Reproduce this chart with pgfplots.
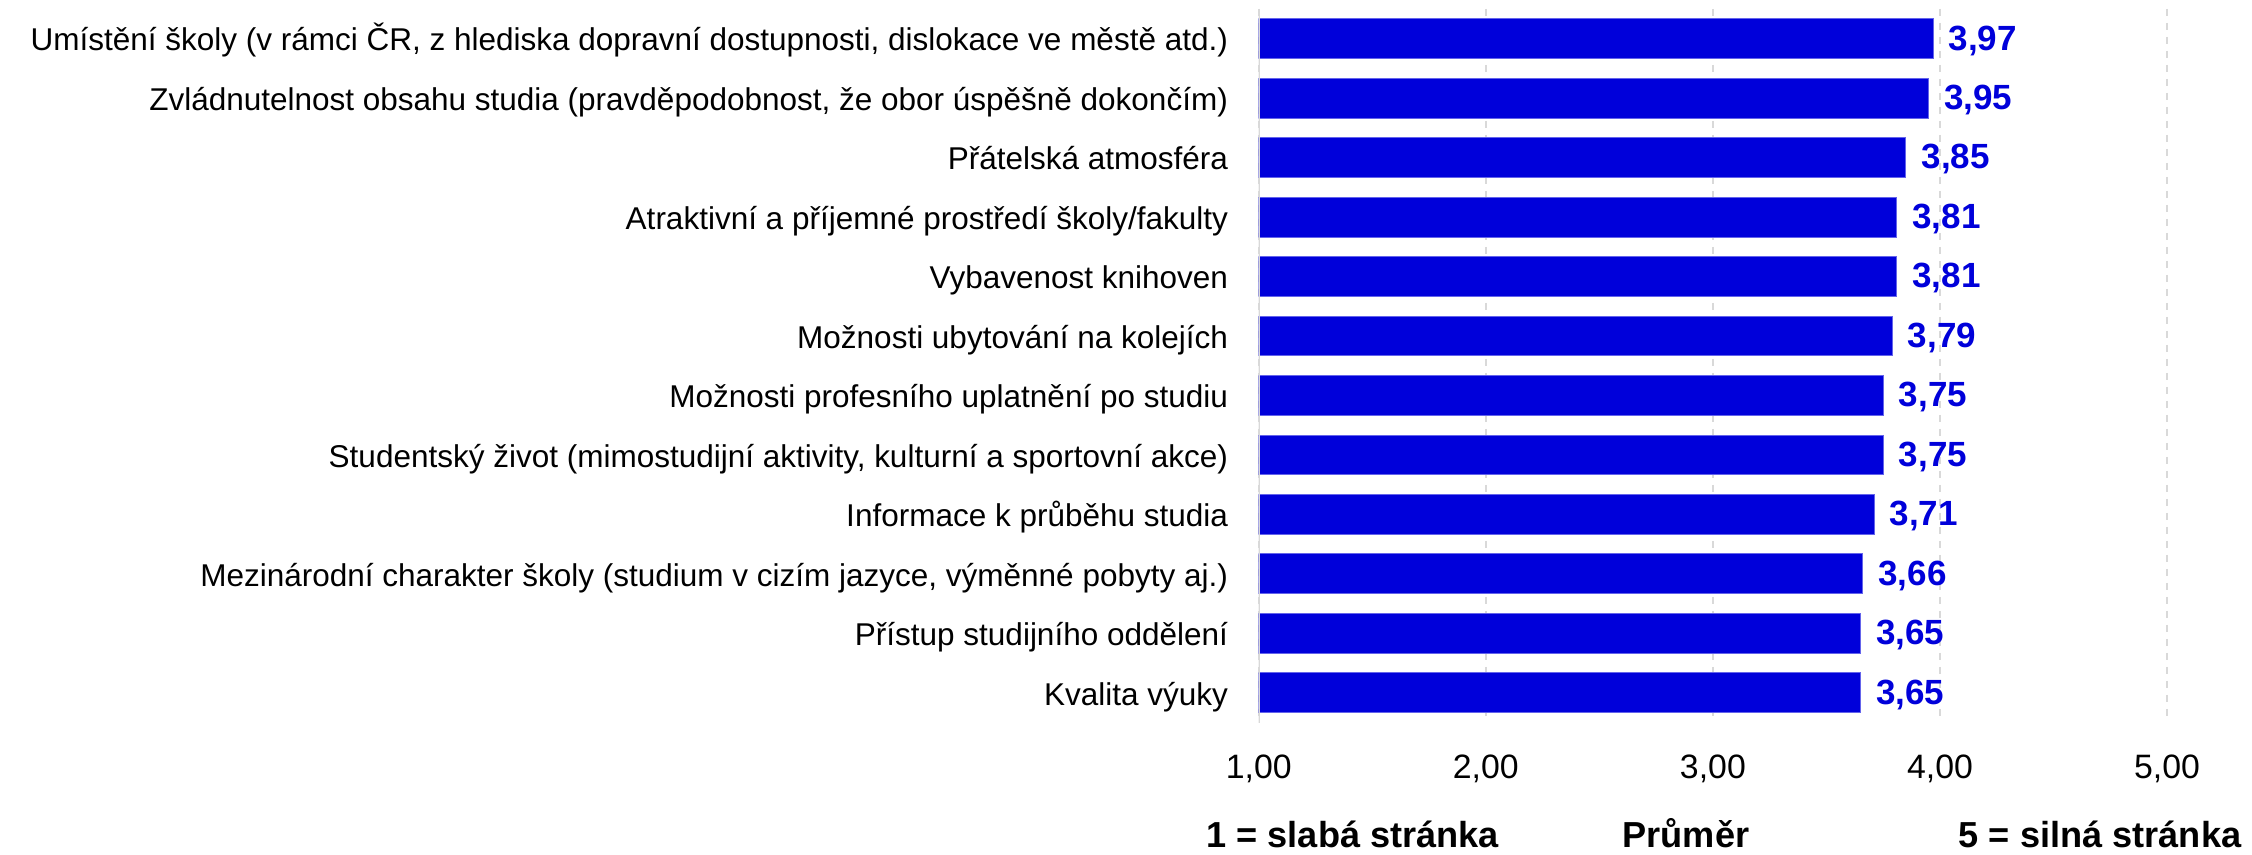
\documentclass[border=0pt]{standalone}
\usepackage{pgfplots}
\pgfplotsset{compat=1.18}
\usepackage{fontspec}
\setmainfont{Liberation Sans}
\definecolor{barblue}{RGB}{0,0,218}
\definecolor{baredge}{RGB}{100,100,235}
\definecolor{gridgray}{RGB}{217,217,217}
\begin{document}
\begin{tikzpicture}
\useasboundingbox (-539.5pt,-56.7pt) rectangle (425.7pt,309.7pt);
\begin{axis}[
  at={(0,0)}, anchor=south west, scale only axis,
  width=389.3pt, height=305.9pt,
  xbar, bar width=17.1pt, bar shift=0pt,
  xmin=1, xmax=5, ymin=-0.5, ymax=11.5, y dir=reverse,
  xtick={1,2,3,4,5}, ytick={0,...,11},
  yticklabels={
    {Umístění školy (v rámci ČR, z hlediska dopravní dostupnosti, dislokace ve městě atd.)},
    {Zvládnutelnost obsahu studia (pravděpodobnost, že obor úspěšně dokončím)},
    {Přátelská atmosféra},
    {Atraktivní a příjemné prostředí školy/fakulty},
    {Vybavenost knihoven},
    {Možnosti ubytování na kolejích},
    {Možnosti profesního uplatnění po studiu},
    {Studentský život (mimostudijní aktivity, kulturní a sportovní akce)},
    {Informace k průběhu studia},
    {Mezinárodní charakter školy (studium v cizím jazyce, výměnné pobyty aj.)},
    {Přístup studijního oddělení},
    {Kvalita výuky}},
  axis line style={draw=none},
  major tick length=0pt,
  xmajorgrids,
  grid style={gridgray, line width=0.86pt, dash pattern=on 3pt off 3pt},
  xticklabel={\pgfmathprintnumber[fixed,fixed zerofill,precision=2,use comma,assume math mode=true]{\tick}},
  xticklabel style={font=\fontsize{14.5}{17}\selectfont, anchor=base, inner sep=0pt, yshift=-24.1pt},
  yticklabel style={font=\fontsize{13.5}{16}\selectfont, anchor=base east, inner sep=0pt, xshift=-13pt, yshift=-5.3pt},
  nodes near coords={\pgfmathprintnumber[fixed,fixed zerofill,precision=2,use comma,assume math mode=true]{\pgfplotspointmeta}},
  every node near coord/.append style={font=\bfseries\fontsize{15}{18}\selectfont, text=barblue, anchor=base west, inner sep=0pt, xshift=6.5pt, yshift=-4.9pt},
]
\addplot[fill=barblue, draw=baredge, line width=0.4pt] coordinates {
  (3.97,0) (3.95,1) (3.85,2) (3.81,3) (3.81,4) (3.79,5)
  (3.75,6) (3.75,7) (3.71,8) (3.66,9) (3.65,10) (3.65,11)};
\draw[gridgray, line width=0.86pt] (axis cs:1,-0.5) -- (axis cs:1,11.5);
\end{axis}
\node[anchor=base west, font=\bfseries\fontsize{15.5}{18}\selectfont, inner sep=0pt] at (-22.6pt,-53.4pt) {1 = slabá stránka};
\node[anchor=base, font=\bfseries\fontsize{15.5}{18}\selectfont, inner sep=0pt] at (183.1pt,-53.4pt) {Průměr};
\node[anchor=base east, font=\bfseries\fontsize{15.5}{18}\selectfont, inner sep=0pt] at (421.3pt,-53.4pt) {5 = silná stránka};
\end{tikzpicture}
\end{document}
